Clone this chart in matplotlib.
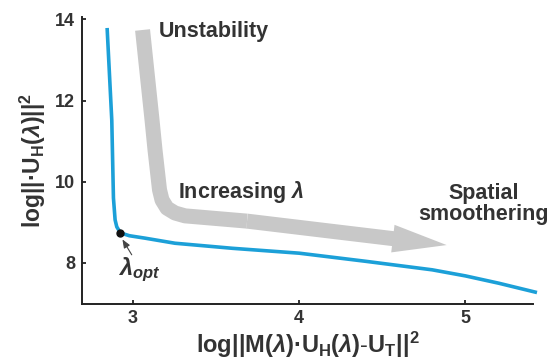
import numpy as np
import matplotlib.pyplot as plt

plt.rcParams['font.family'] = ['Liberation Sans', 'DejaVu Sans']
plt.rcParams['font.weight'] = 'bold'
plt.rcParams['mathtext.fontset'] = 'custom'
plt.rcParams['mathtext.rm'] = 'Liberation Sans:bold'
plt.rcParams['mathtext.it'] = 'Liberation Sans:italic:bold'
plt.rcParams['mathtext.bf'] = 'Liberation Sans:bold'

# L-curve
residual = [2.846, 2.874, 2.884, 2.894, 2.904, 2.926, 2.98, 3.074, 3.254, 3.60, 4.0, 4.40, 4.80, 5.0, 5.2, 5.43]
seminorm = [13.79, 11.52, 9.60, 9.06, 8.89, 8.74, 8.67, 8.61, 8.485, 8.36, 8.24, 8.04, 7.83, 7.68, 7.50, 7.27]
lam_opt = (2.926, 8.74)

# grey "increasing lambda" arrow path
arrow_x = [3.059, 3.116, 3.134, 3.161, 3.176, 3.206, 3.254, 3.314, 3.687]
arrow_y = [13.74, 11.52, 10.78, 9.80, 9.55, 9.35, 9.23, 9.16, 9.03]
arrow_tip = (4.887, 8.44)

xticks = [3, 4, 5]
yticks = [8, 10, 12, 14]

blue = '#1ca0d8'
grey = '#c8c8c8'
txt = '#333333'

fig = plt.figure(figsize=(5.51, 3.62), dpi=100)
ax = fig.add_axes([82/551, 1-303.5/362, 451/551, 286.5/362])

ax.plot(residual, seminorm, color=blue, lw=2.6, clip_on=False, zorder=3,
        solid_capstyle='butt', solid_joinstyle='round')
ax.plot(*lam_opt, 'o', color='#111111', ms=5, zorder=4)

ax.plot(arrow_x, arrow_y, color=grey, lw=10.8, solid_capstyle='butt', solid_joinstyle='round', zorder=1)
ax.annotate('', xy=arrow_tip, xytext=(arrow_x[-1], arrow_y[-1]),
            arrowprops=dict(arrowstyle='simple,head_length=3.9,head_width=2.0,tail_width=1.08',
                            color=grey, lw=0, shrinkA=0, shrinkB=0), zorder=1)

ax.annotate('', xy=(2.938, 8.58), xytext=(2.994, 8.20),
            arrowprops=dict(arrowstyle='-|>,head_length=0.5,head_width=0.2', color='#444444', lw=0.8,
                            shrinkA=0, shrinkB=0))

ax.text(3.158, 13.57, 'Unstability', fontsize=15.5, color=txt, ha='left', va='baseline')
ax.text(3.272, 9.60, r'Increasing $\mathit{λ}$', fontsize=15.5, color=txt, ha='left', va='baseline')
ax.text(5.111, 9.45, 'Spatial\nsmoothering', fontsize=15.5, color=txt, ha='center', va='center',
        linespacing=1.05, clip_on=False)
ax.text(2.912, 7.70, r'$\mathit{λ_{opt}}$', fontsize=17, color=txt, ha='left', va='baseline')

ax.set_xlim(2.695, 5.406)
ax.set_ylim(7.0, 14.06)
ax.set_xticks(xticks)
ax.set_yticks(yticks)
ax.tick_params(direction='in', length=3, width=1.3, labelsize=13, colors='#222222', pad=5)
for lab in ax.get_xticklabels() + ax.get_yticklabels():
    lab.set_fontweight('bold')
    lab.set_color(txt)
for s in ['top', 'right']:
    ax.spines[s].set_visible(False)
for s in ['left', 'bottom']:
    ax.spines[s].set_linewidth(1.4)
    ax.spines[s].set_color('#222222')

ax.set_xlabel(r'$\mathrm{log||M(}\mathit{λ}\mathrm{)·U_H(}\mathit{λ}\mathrm{)}$-$\mathrm{U_T||^2}$',
              fontsize=17, color=txt, labelpad=2)
ax.set_ylabel(r'$\mathrm{log||·U_H(}\mathit{λ}\mathrm{)||^2}$', fontsize=16.5, color=txt, labelpad=5)

fig.savefig('out.png', dpi=100)
